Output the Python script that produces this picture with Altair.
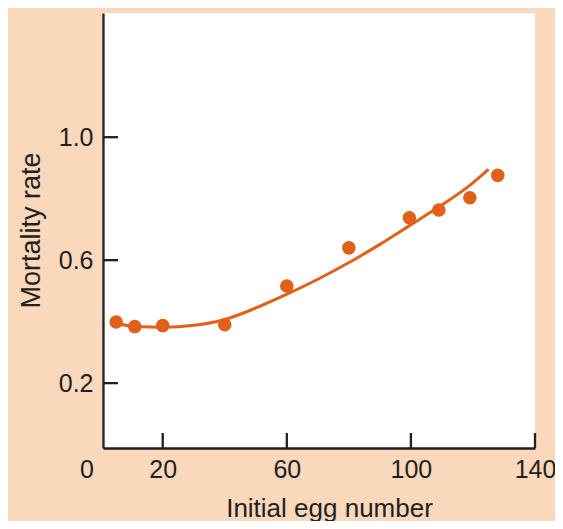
import altair as alt
import pandas as pd

# Observed data points
egg_number = [5, 11, 20, 40, 60, 80, 99.5, 109, 119, 128]
mortality = [0.399, 0.384, 0.387, 0.390, 0.516, 0.640, 0.738, 0.763, 0.803, 0.876]

# Fitted curve
curve_x = [5.0, 11.3, 20.2, 30.1, 39.7, 49.7, 60.2, 70.0, 80.2, 89.6, 99.8, 109.3, 119.2, 125.0]
curve_y = [0.395, 0.384, 0.382, 0.388, 0.406, 0.443, 0.490, 0.538, 0.593, 0.649, 0.714, 0.775, 0.845, 0.895]

# Axis ticks
X_MIN = 0.75
x_tick_labels = [X_MIN, 20, 60, 100, 140]   # first one is shown as the origin "0"
x_tick_marks = [20, 60, 100, 140]
y_ticks = [0.2, 0.6, 1.0]

W, H = 432, 435
ORANGE = "#E2611A"
INK = "#231F20"
PEACH = "#F9D8BC"
FONT = "Liberation Sans"

pts = pd.DataFrame({"x": egg_number, "y": mortality})
crv = pd.DataFrame({"x": curve_x, "y": curve_y})
xt = pd.DataFrame({"x": x_tick_marks})
yt = pd.DataFrame({"y": y_ticks})

xscale = alt.Scale(domain=[X_MIN, 140], nice=False, zero=False)
yscale = alt.Scale(domain=[-0.011, 1.404], nice=False, zero=False)

x_axis = alt.Axis(
    values=x_tick_labels, ticks=False, tickSize=0, grid=False,
    labelExpr="datum.value < 1 ? '0' : datum.label",
    labelFontSize=25, labelFont=FONT, labelColor=INK, labelPadding=9,
    labelFlush=False, labelOverlap=False,
    labelOffset={"condition": {"test": "datum.value < 1", "value": -16.5}, "value": 0},
    domainColor=INK, domainWidth=2.3,
    title="Initial egg number", titleFont=FONT, titleFontSize=26,
    titleFontWeight="normal", titleColor=INK,
    titleX=226, titleY=68, titleBaseline="alphabetic",
)
y_axis = alt.Axis(
    values=y_ticks, ticks=False, tickSize=0, grid=False, format=".1f",
    labelFontSize=25, labelFont=FONT, labelColor=INK, labelPadding=10,
    labelFlush=False, labelOverlap=False,
    domainColor=INK, domainWidth=2.3,
    title="Mortality rate", titleFont=FONT, titleFontSize=27,
    titleFontWeight="normal", titleColor=INK,
    titleAngle=270, titleX=-64, titleY=217, titleBaseline="alphabetic",
)

X = alt.X("x:Q", scale=xscale, axis=x_axis)
Y = alt.Y("y:Q", scale=yscale, axis=y_axis)

xticks = alt.Chart(xt).mark_rule(color=INK, strokeWidth=2.3).encode(
    x=X, y=alt.value(H - 15), y2=alt.value(H),
)
yticks = alt.Chart(yt).mark_rule(color=INK, strokeWidth=2.3).encode(
    y=Y, x=alt.value(0), x2=alt.value(15),
)
line = alt.Chart(crv).mark_line(color=ORANGE, strokeWidth=3, interpolate="monotone").encode(
    x=X, y=Y,
)
points = alt.Chart(pts).mark_circle(color=ORANGE, opacity=1, size=185).encode(
    x=X, y=Y,
)

chart = alt.layer(xticks, yticks, line, points).properties(
    width=W, height=H,
    background=PEACH,
    autosize=alt.AutoSizeParams(type="none"),
    padding={"left": 95, "top": 5, "right": 20, "bottom": 73},
).configure_view(fill="white", strokeWidth=0)

chart.save("out.html", embed_options={"renderer": "svg", "actions": False})
